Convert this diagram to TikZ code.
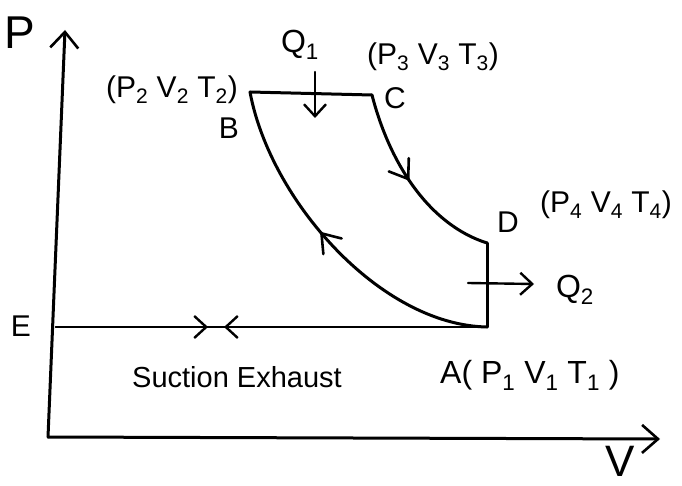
\documentclass[tikz,border=0pt]{standalone}
\usepackage{fontspec}
\setmainfont{Liberation Sans}
\usetikzlibrary{arrows.meta,decorations.markings}
\begin{document}
\begin{tikzpicture}[x=1pt,y=-1pt,
  ln/.style={line width=3pt,line cap=round,line join=round},
  thinln/.style={line width=2.4pt,line cap=round},
  axtip/.style={-{Straight Barb[length=16pt,width=28pt,line width=2.6pt]}},
  vtip/.style={-{Straight Barb[length=12pt,width=22pt,line width=2.4pt]}},
  lbl/.style={font=\fontsize{30}{32}\selectfont,inner sep=0pt},
  midarrow/.style={postaction={decorate},decoration={markings,
     mark=at position #1 with {\draw[line width=2.6pt,line cap=round,line join=round]
       (-17pt,-12pt) -- (0pt,0pt) -- (-17pt,12pt);}}}]
\useasboundingbox (0,0) rectangle (682,486);
% points
\coordinate (O) at (48,437);
\coordinate (Ptop) at (65,30);
\coordinate (Vend) at (660,439);
\coordinate (E) at (56,327);
\coordinate (A) at (487,327);
\coordinate (B) at (250,92);
\coordinate (C) at (372,95);
\coordinate (D) at (487,243);
\coordinate (q1s) at (315,72);
\coordinate (q1e) at (315,118);
\coordinate (q2s) at (468,283);
\coordinate (q2e) at (534,284);
\coordinate (s2) at (208,327);
\coordinate (s3) at (224,327);
% axes
\draw[ln,axtip] (O) -- (Ptop);
\draw[ln,axtip] (O) -- (Vend);
% suction / exhaust line
\draw[thinln] (E) -- (A);
\draw[thinln,vtip] (E) -- (s2);
\draw[thinln,vtip] (A) -- (s3);
% cycle
\draw[ln] (B) -- (C);
\draw[ln,midarrow=0.47] (C) .. controls (390,165) and (430,225) .. (D);
\draw[ln] (D) -- (A);
\draw[ln,midarrow=0.55] (A) .. controls (380,325) and (270,200) .. (B);
% heat arrows
\draw[thinln,vtip] (q1s) -- (q1e);
\draw[thinln,vtip] (q2s) -- (q2e);
% labels
\node[lbl,font=\fontsize{46}{48}\selectfont] (lP) at (20,33) {P};
\node[lbl,font=\fontsize{44}{46}\selectfont] (lV) at (620,461) {V};
\node[lbl] (lE) at (21,326) {E};
\node[lbl,font=\fontsize{32}{34}\selectfont] (lQ1) at (300,45) {Q\textsubscript{1}};
\node[lbl,font=\fontsize{32}{34}\selectfont] (lQ2) at (575,290) {Q\textsubscript{2}};
\node[lbl] (lB) at (229,128) {B};
\node[lbl] (lC) at (395,98) {C};
\node[lbl] (lD) at (508,222) {D};
\node[lbl,anchor=west,font=\fontsize{32}{34}\selectfont] (lA) at (440,375) {A( P\textsubscript{1} V\textsubscript{1} T\textsubscript{1} )};
\node[lbl] (l2) at (172,90) {(P\textsubscript{2} V\textsubscript{2} T\textsubscript{2})};
\node[lbl] (l3) at (433,57) {(P\textsubscript{3} V\textsubscript{3} T\textsubscript{3})};
\node[lbl] (l4) at (606,205) {(P\textsubscript{4} V\textsubscript{4} T\textsubscript{4})};
\node[lbl,font=\fontsize{29}{31}\selectfont] (lSE) at (237,377) {Suction Exhaust};
\end{tikzpicture}
\end{document}
